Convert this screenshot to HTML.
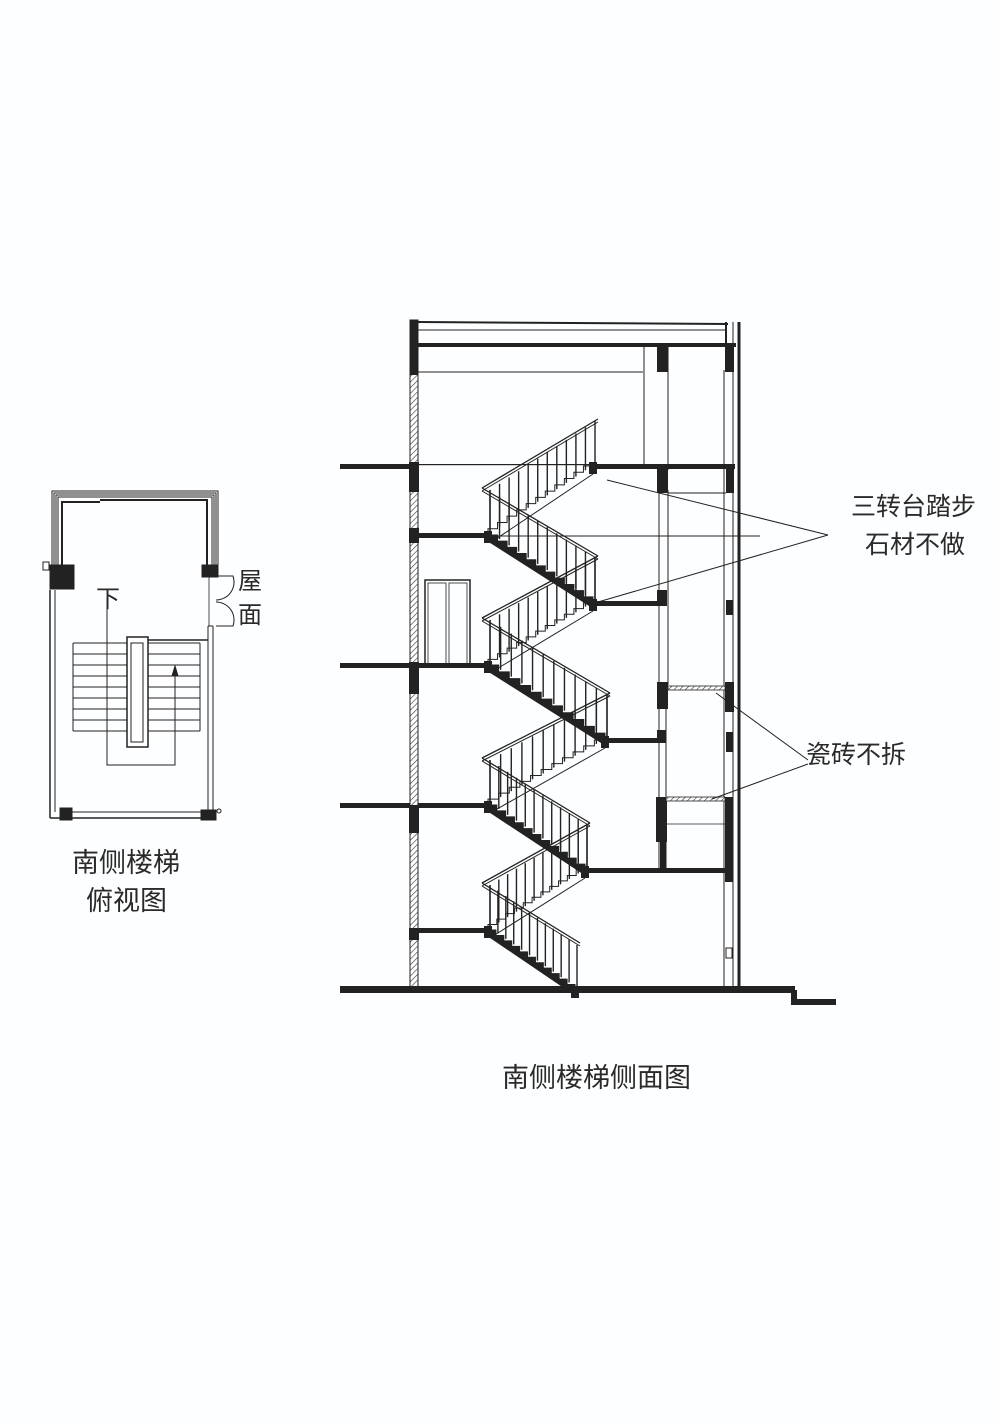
<!DOCTYPE html>
<html><head><meta charset="utf-8">
<style>
html,body{margin:0;padding:0;background:#fdfeff;}
body{width:1000px;height:1423px;position:relative;overflow:hidden;font-family:"Liberation Sans","Noto Sans CJK SC",sans-serif;color:#222;}
.t{position:absolute;white-space:nowrap;line-height:1;color:#2a2a2a;}
svg{position:absolute;left:0;top:0;}
</style></head>
<body>
<svg id="s" width="1000" height="1423" viewBox="0 0 1000 1423" xmlns="http://www.w3.org/2000/svg">
<defs>
<pattern id="h" width="4" height="4" patternUnits="userSpaceOnUse" patternTransform="rotate(45)">
<rect width="4" height="4" fill="#fff"/><line x1="0" y1="0" x2="0" y2="4" stroke="#333" stroke-width="1.2"/></pattern>
</defs>
<g stroke="#222" fill="none">
<!-- ===== PLAN ===== -->
<path d="M52,568 V491 H218 V568" stroke-width="1"/>
<path d="M54,568 V493 H216 V568" stroke-width="1"/>
<path d="M56,568 V495 H214 V568" stroke-width="1"/>
<path d="M58,568 V497 H212 V568" stroke-width="1"/>
<path d="M62,568 V502 H100 M100,500 H207 V568" stroke-width="2"/>
<rect x="50" y="565" width="24" height="24" fill="#222"/>
<rect x="202" y="565" width="16" height="12" fill="#222"/>
<rect x="43" y="562" width="6" height="8" stroke-width="1"/>
<line x1="50" y1="590" x2="50" y2="818" stroke-width="1.5"/>
<line x1="55" y1="590" x2="55" y2="812" stroke-width="1"/>
<line x1="50" y1="818" x2="216" y2="818" stroke-width="1.5"/>
<line x1="70" y1="812" x2="206" y2="812" stroke-width="1"/>
<rect x="60" y="808" width="12" height="12" fill="#222"/>
<rect x="201" y="810" width="15" height="10" fill="#222"/>
<circle cx="219" cy="811" r="2" stroke-width="1"/>
<line x1="208" y1="626" x2="208" y2="812" stroke-width="1"/>
<line x1="213" y1="626" x2="213" y2="812" stroke-width="1"/>
<line x1="208" y1="626" x2="213" y2="626" stroke-width="1"/>
<line x1="209" y1="577" x2="209" y2="626" stroke-width="0.8"/>
<path d="M216,576 H233 A18,18 0 0 1 216,600 M216,602 A18,18 0 0 1 233,626 H216" stroke-width="1"/>
<!-- treads -->
<g stroke-width="1">
<line x1="73" y1="643" x2="200" y2="643"/><line x1="73" y1="654" x2="200" y2="654"/>
<line x1="73" y1="665" x2="200" y2="665"/><line x1="73" y1="676" x2="200" y2="676"/>
<line x1="73" y1="687" x2="200" y2="687"/><line x1="73" y1="698" x2="200" y2="698"/>
<line x1="73" y1="709" x2="200" y2="709"/><line x1="73" y1="720" x2="200" y2="720"/>
<line x1="73" y1="731" x2="200" y2="731"/>
<line x1="73" y1="643" x2="73" y2="731"/><line x1="200" y1="643" x2="200" y2="731"/>
</g>
<rect x="127" y="637" width="21" height="110" fill="#fff" stroke-width="1.5"/>
<rect x="131" y="643" width="12" height="99" stroke-width="1"/>
<line x1="148" y1="640" x2="208" y2="640" stroke-width="1.5"/>
<path d="M107,598 V765 H175 V672" stroke-width="1"/>
<path d="M172,676 L175,666 L178,676 Z" fill="#222"/>
<!-- ===== SECTION ===== -->
<rect x="410" y="320" width="8" height="670" fill="url(#h)" stroke-width="1"/>
<rect x="410" y="320" width="8" height="55" fill="#222" stroke="none"/>
<line x1="418" y1="322" x2="728" y2="324" stroke-width="2"/>
<line x1="418" y1="330" x2="726" y2="330" stroke-width="1"/>
<rect x="418" y="343" width="318" height="4" fill="#222" stroke="none"/>
<line x1="726" y1="322" x2="726" y2="345" stroke-width="2"/>
<line x1="739" y1="322" x2="739" y2="992" stroke-width="3"/>
<line x1="733" y1="322" x2="733" y2="992" stroke-width="1"/>
<line x1="724" y1="370" x2="724" y2="992" stroke-width="1"/>
<rect x="725" y="347" width="9" height="25" fill="#222" stroke="none"/>
<rect x="657" y="347" width="11" height="25" fill="#222" stroke="none"/>
<line x1="418" y1="372" x2="643" y2="372" stroke-width="1"/>
<line x1="644" y1="347" x2="644" y2="466" stroke-width="1"/>
<line x1="668" y1="347" x2="668" y2="470" stroke-width="1"/>
<line x1="659" y1="470" x2="659" y2="870" stroke-width="1"/>
<line x1="668" y1="490" x2="668" y2="685" stroke-width="1"/>
<line x1="666" y1="700" x2="666" y2="870" stroke-width="1"/>
<!-- floor slabs -->
<g fill="#222" stroke="none">
<rect x="340" y="464" width="70" height="5"/>
<rect x="418" y="464" width="176" height="1.2"/>
<rect x="594" y="464" width="141" height="5"/>
<rect x="657" y="466" width="11" height="27"/><rect x="726" y="466" width="8" height="27"/>
<rect x="409" y="462" width="10" height="30"/>
<rect x="418" y="533" width="70" height="5"/>
<rect x="409" y="528" width="10" height="15"/>
<rect x="594" y="601" width="70" height="5"/>
<rect x="657" y="590" width="10" height="16"/>
<rect x="340" y="663" width="70" height="5"/>
<rect x="418" y="663" width="70" height="5"/>
<rect x="409" y="662" width="10" height="32"/>
<rect x="657" y="682" width="11" height="27"/><rect x="725" y="682" width="9" height="30"/>
<rect x="726" y="600" width="7" height="15"/>
<rect x="606" y="738" width="55" height="5"/>
<rect x="657" y="730" width="9" height="13"/>
<rect x="726" y="732" width="7" height="20"/>
<rect x="340" y="803" width="70" height="5"/>
<rect x="418" y="803" width="70" height="5"/>
<rect x="409" y="805" width="10" height="28"/>
<rect x="656" y="797" width="11" height="45"/><rect x="660" y="842" width="6" height="28"/>
<rect x="725" y="797" width="8" height="85"/>
<rect x="585" y="868" width="140" height="5"/>
<rect x="418" y="928" width="70" height="5"/>
<rect x="409" y="928" width="10" height="12"/>
<rect x="340" y="986" width="455" height="7"/>
<rect x="791" y="990" width="6" height="14"/>
<rect x="791" y="999" width="45" height="6"/>
</g>
<rect x="726" y="948" width="6" height="10" stroke-width="1"/>
<!-- tile slabs -->
<rect x="668" y="686" width="57" height="4" fill="url(#h)" stroke-width="0.8"/>
<rect x="666" y="797" width="59" height="4" fill="url(#h)" stroke-width="0.8"/>
<line x1="666" y1="824" x2="725" y2="824" stroke-width="0.8"/>
<!-- door -->
<rect x="425" y="580" width="45" height="84" stroke-width="1.5"/>
<rect x="428" y="583" width="18" height="81" stroke-width="0.8"/>
<rect x="449" y="583" width="18" height="81" stroke-width="0.8"/>
<!-- thin horizontals -->
<line x1="418" y1="536" x2="760" y2="536" stroke-width="1"/>
<line x1="668" y1="493" x2="726" y2="493" stroke-width="1"/>
<!-- leader lines -->
<line x1="828" y1="535" x2="607" y2="480" stroke-width="1"/>
<line x1="828" y1="535" x2="598" y2="602" stroke-width="1"/>
<line x1="808" y1="760" x2="716" y2="693" stroke-width="1"/>
<line x1="808" y1="764" x2="712" y2="799" stroke-width="1"/>
</g>
<g id="st" stroke="#222" fill="none"></g>
</svg>
<div class="t" style="left:96px;top:588px;font-size:24px;">下</div>
<div class="t" style="left:238px;top:570px;font-size:24px;">屋</div>
<div class="t" style="left:238px;top:604px;font-size:24px;">面</div>
<div class="t" style="left:72px;top:850px;font-size:27px;">南侧楼梯</div>
<div class="t" style="left:86px;top:888px;font-size:27px;">俯视图</div>
<div class="t" style="left:851px;top:495px;font-size:25px;">三转台踏步</div>
<div class="t" style="left:865px;top:533px;font-size:25px;">石材不做</div>
<div class="t" style="left:806px;top:743px;font-size:25px;">瓷砖不拆</div>
<div class="t" style="left:502px;top:1065px;font-size:27px;">南侧楼梯侧面图</div>
<script>
(function(){
var g=document.getElementById('st'),ns='http://www.w3.org/2000/svg';
function el(n,a){var e=document.createElementNS(ns,n);for(var k in a)e.setAttribute(k,a[k]);g.appendChild(e);return e;}
function line(x1,y1,x2,y2,w){el('line',{x1:x1,y1:y1,x2:x2,y2:y2,'stroke-width':w||1});}
// flight: left landing (xl,yl) to right point (xr,yr); front = black filled steps
function flight(xl,yl,xr,yr,front){
 var n=11,dx=(xr-xl)/n,dy=(yr-yl)/n,d='M'+xl+','+yl;
 var x=xl,y=yl;
 for(var i=0;i<n;i++){ if(dy<0){y+=dy;d+=' V'+y;x+=dx;d+=' H'+x;} else {x+=dx;d+=' H'+x;y+=dy;d+=' V'+y;} }
 if(front){
   d+=' L'+(xr)+','+(yr+5)+' L'+xl+','+(yl+6)+' Z';
   el('path',{d:d,fill:'#222','stroke-width':1});
 } else {
   el('path',{d:d,'stroke-width':1});
   line(xl+2,yl+8,xr,yr+8,1);
 }
 // rail
 var off=47;
 line(xl-6,yl-off,xr+5,yr-off,1.3);
 line(xl-6,yl-off+3,xr+5,yr-off+3,1);
 for(var j=0;j<=n;j++){var bx=xl+j*dx+2,by=yl+j*dy;line(bx,by-2,bx,by-off+2,1.4);}
 el('rect',{x:xl-4,y:yl-4,width:8,height:12,fill:'#222',stroke:'none'});
 el('rect',{x:xr-4,y:yr-4,width:8,height:12,fill:'#222',stroke:'none'});
}
flight(488,930,575,990,true);
flight(488,930,585,870,false);
flight(488,805,585,870,true);
flight(488,805,605,740,false);
flight(488,665,605,740,true);
flight(488,665,593,603,false);
flight(488,535,593,603,true);
flight(488,535,593,466,false);
})();
</script>
</body></html>
